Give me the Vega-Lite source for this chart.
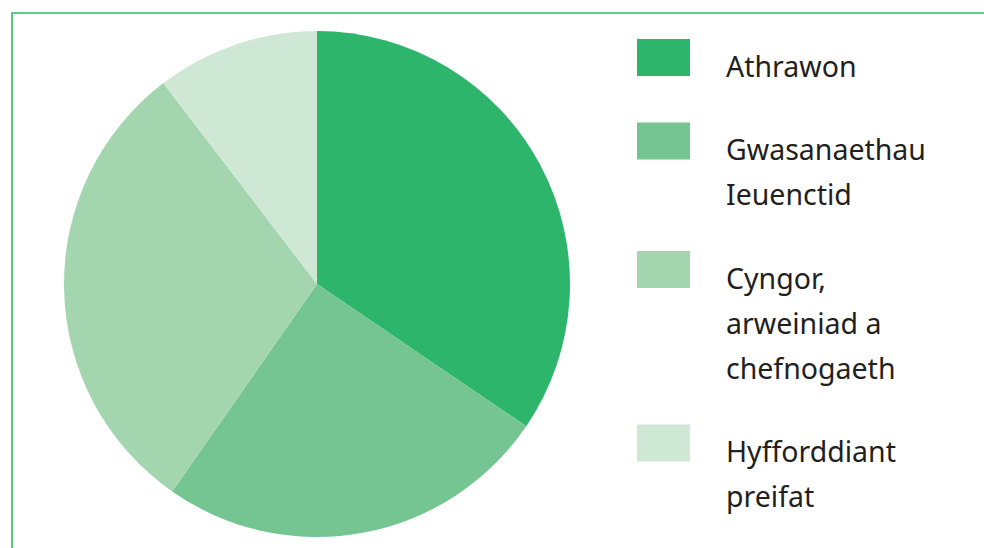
{
  "$schema": "https://vega.github.io/schema/vega-lite/v6.json",
  "width": 984,
  "height": 548,
  "autosize": {"type": "fit", "contains": "padding"},
  "padding": {"left": 12, "top": 13, "right": -10, "bottom": -10},
  "background": "white",
  "view": {"stroke": "#2fba66", "strokeWidth": 1.6},
  "config": {
    "view": {"stroke": "#2fba66", "strokeWidth": 1.6},
    "font": "Noto Sans",
    "style": {"guide-label": {"lineHeight": 45, "dy": -4}}
  },
  "data": {
    "values": [
      {"idx": 1, "category": "Athrawon", "label": "Athrawon", "value": 34.5},
      {"idx": 2, "category": "Gwasanaethau Ieuenctid", "label": "Gwasanaethau|Ieuenctid", "value": 25.2},
      {"idx": 3, "category": "Cyngor, arweiniad a chefnogaeth", "label": "Cyngor,|arweiniad a|chefnogaeth", "value": 29.9},
      {"idx": 4, "category": "Hyfforddiant preifat", "label": "Hyfforddiant|preifat", "value": 10.4}
    ]
  },
  "mark": {"type": "arc", "outerRadius": 253, "x": 305, "y": 271, "stroke": null},
  "encoding": {
    "theta": {"field": "value", "type": "quantitative", "stack": true},
    "order": {"field": "idx", "type": "quantitative"},
    "color": {
      "field": "label",
      "type": "nominal",
      "sort": null,
      "scale": {
        "domain": ["Athrawon", "Gwasanaethau|Ieuenctid", "Cyngor,|arweiniad a|chefnogaeth", "Hyfforddiant|preifat"],
        "range": ["#2db56b", "#74c591", "#a3d5af", "#cfe8d5"]
      },
      "legend": {
        "title": null,
        "orient": "none",
        "legendX": 625,
        "legendY": 18,
        "padding": 0,
        "symbolType": "M-1,-0.7H1V0.7H-1Z",
        "symbolSize": 2809,
        "symbolStrokeWidth": 0,
        "symbolOpacity": 1,
        "labelExpr": "split(datum.label, '|')",
        "labelFontSize": 28.5,
        "labelColor": "#231f20",
        "labelOffset": 36,
        "labelLimit": 400,
        "labelBaseline": "top",
        "rowPadding": 32.5
      }
    },
    "tooltip": [{"field": "category"}, {"field": "value"}]
  }
}
